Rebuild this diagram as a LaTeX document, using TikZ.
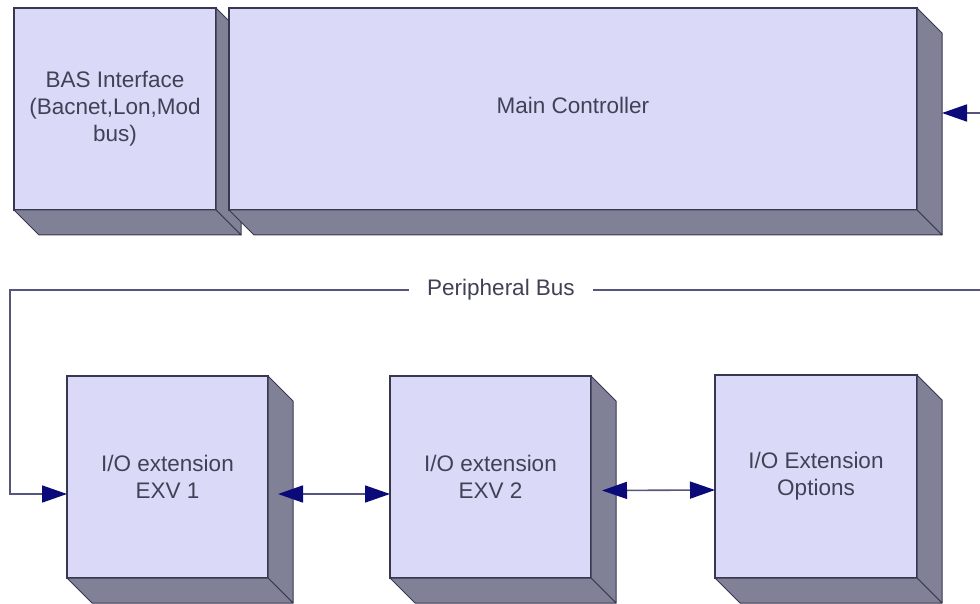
\documentclass[tikz,border=0pt]{standalone}
\usepackage{fontspec}
\setmainfont{Liberation Sans}
\usetikzlibrary{arrows.meta}
\definecolor{faceC}{RGB}{218,218,248}
\definecolor{sideC}{RGB}{128,128,150}
\definecolor{edgeC}{RGB}{55,55,80}
\definecolor{arrC}{RGB}{10,10,120}
\definecolor{busC}{RGB}{85,85,125}
\definecolor{txtC}{RGB}{65,65,85}
\tikzset{
  front/.style={draw=edgeC, line width=1.2pt, fill=faceC, outer sep=0pt, inner sep=0pt,
    text=txtC, font=\fontsize{22.5}{27}\selectfont, align=center},
  extr/.style={draw=edgeC, line width=1pt, fill=sideC, line join=round},
  conn/.style={draw=busC, line width=1.6pt},
  tipend/.style={-{Triangle[length=25pt,width=17pt,color=arrC]}},
  tipboth/.style={{Triangle[length=25pt,width=17pt,color=arrC]}-{Triangle[length=25pt,width=17pt,color=arrC]}},
  buslabel/.style={fill=white, text=txtC, inner xsep=18pt, font=\fontsize{22.5}{27}\selectfont},
}
\newcommand{\extrudebox}[1]{%
  \path[extr] (#1.north east) -- ++(25,25) -- ([shift={(25pt,-25pt)}]#1.south east) -- (#1.south east) -- cycle;
  \path[extr] (#1.south west) -- ++(25,25) -- ([shift={(25pt,-25pt)}]#1.south east) -- (#1.south east) -- cycle;
}
\begin{document}
\begin{tikzpicture}[x=1pt,y=-1pt]
\useasboundingbox (0,0) rectangle (980,604);
% top row
\node[front, minimum width=202pt, minimum height=202pt] (bas) at (115,109)
  {BAS Interface\\(Bacnet,Lon,Mod\\bus)};
\extrudebox{bas}
\node[front, minimum width=688pt, minimum height=202pt] (main) at (573,109) {\raisebox{7pt}{Main Controller}};
\extrudebox{main}
% bottom row
\node[front, minimum width=201pt, minimum height=202pt] (exv1) at (167.5,477) {I/O extension\\EXV 1};
\extrudebox{exv1}
\node[front, minimum width=201pt, minimum height=202pt] (exv2) at (490.5,477) {I/O extension\\EXV 2};
\extrudebox{exv2}
\node[front, minimum width=202pt, minimum height=203pt] (opt) at (816,476.5) {I/O Extension\\Options};
\extrudebox{opt}
% connectors
\coordinate (mainin) at (980,113);
\coordinate (busR) at (980,290);
\coordinate (busL) at (10,290);
\draw[conn, tipend] (mainin) -- ([shift={(25pt,-4pt)}]main.east);
\draw[conn, tipend] (busR) -- (busL) |- ([yshift=-17pt]exv1.west);
\node[buslabel] (buslbl) at (501,290) {Peripheral Bus};
\draw[conn, tipboth] ([shift={(10pt,-17pt)}]exv1.east) -- ([yshift=-17pt]exv2.west);
\draw[conn, tipboth] ([shift={(11pt,-13.5pt)}]exv2.east) -- ([yshift=-13.5pt]opt.west);
\end{tikzpicture}
\end{document}
